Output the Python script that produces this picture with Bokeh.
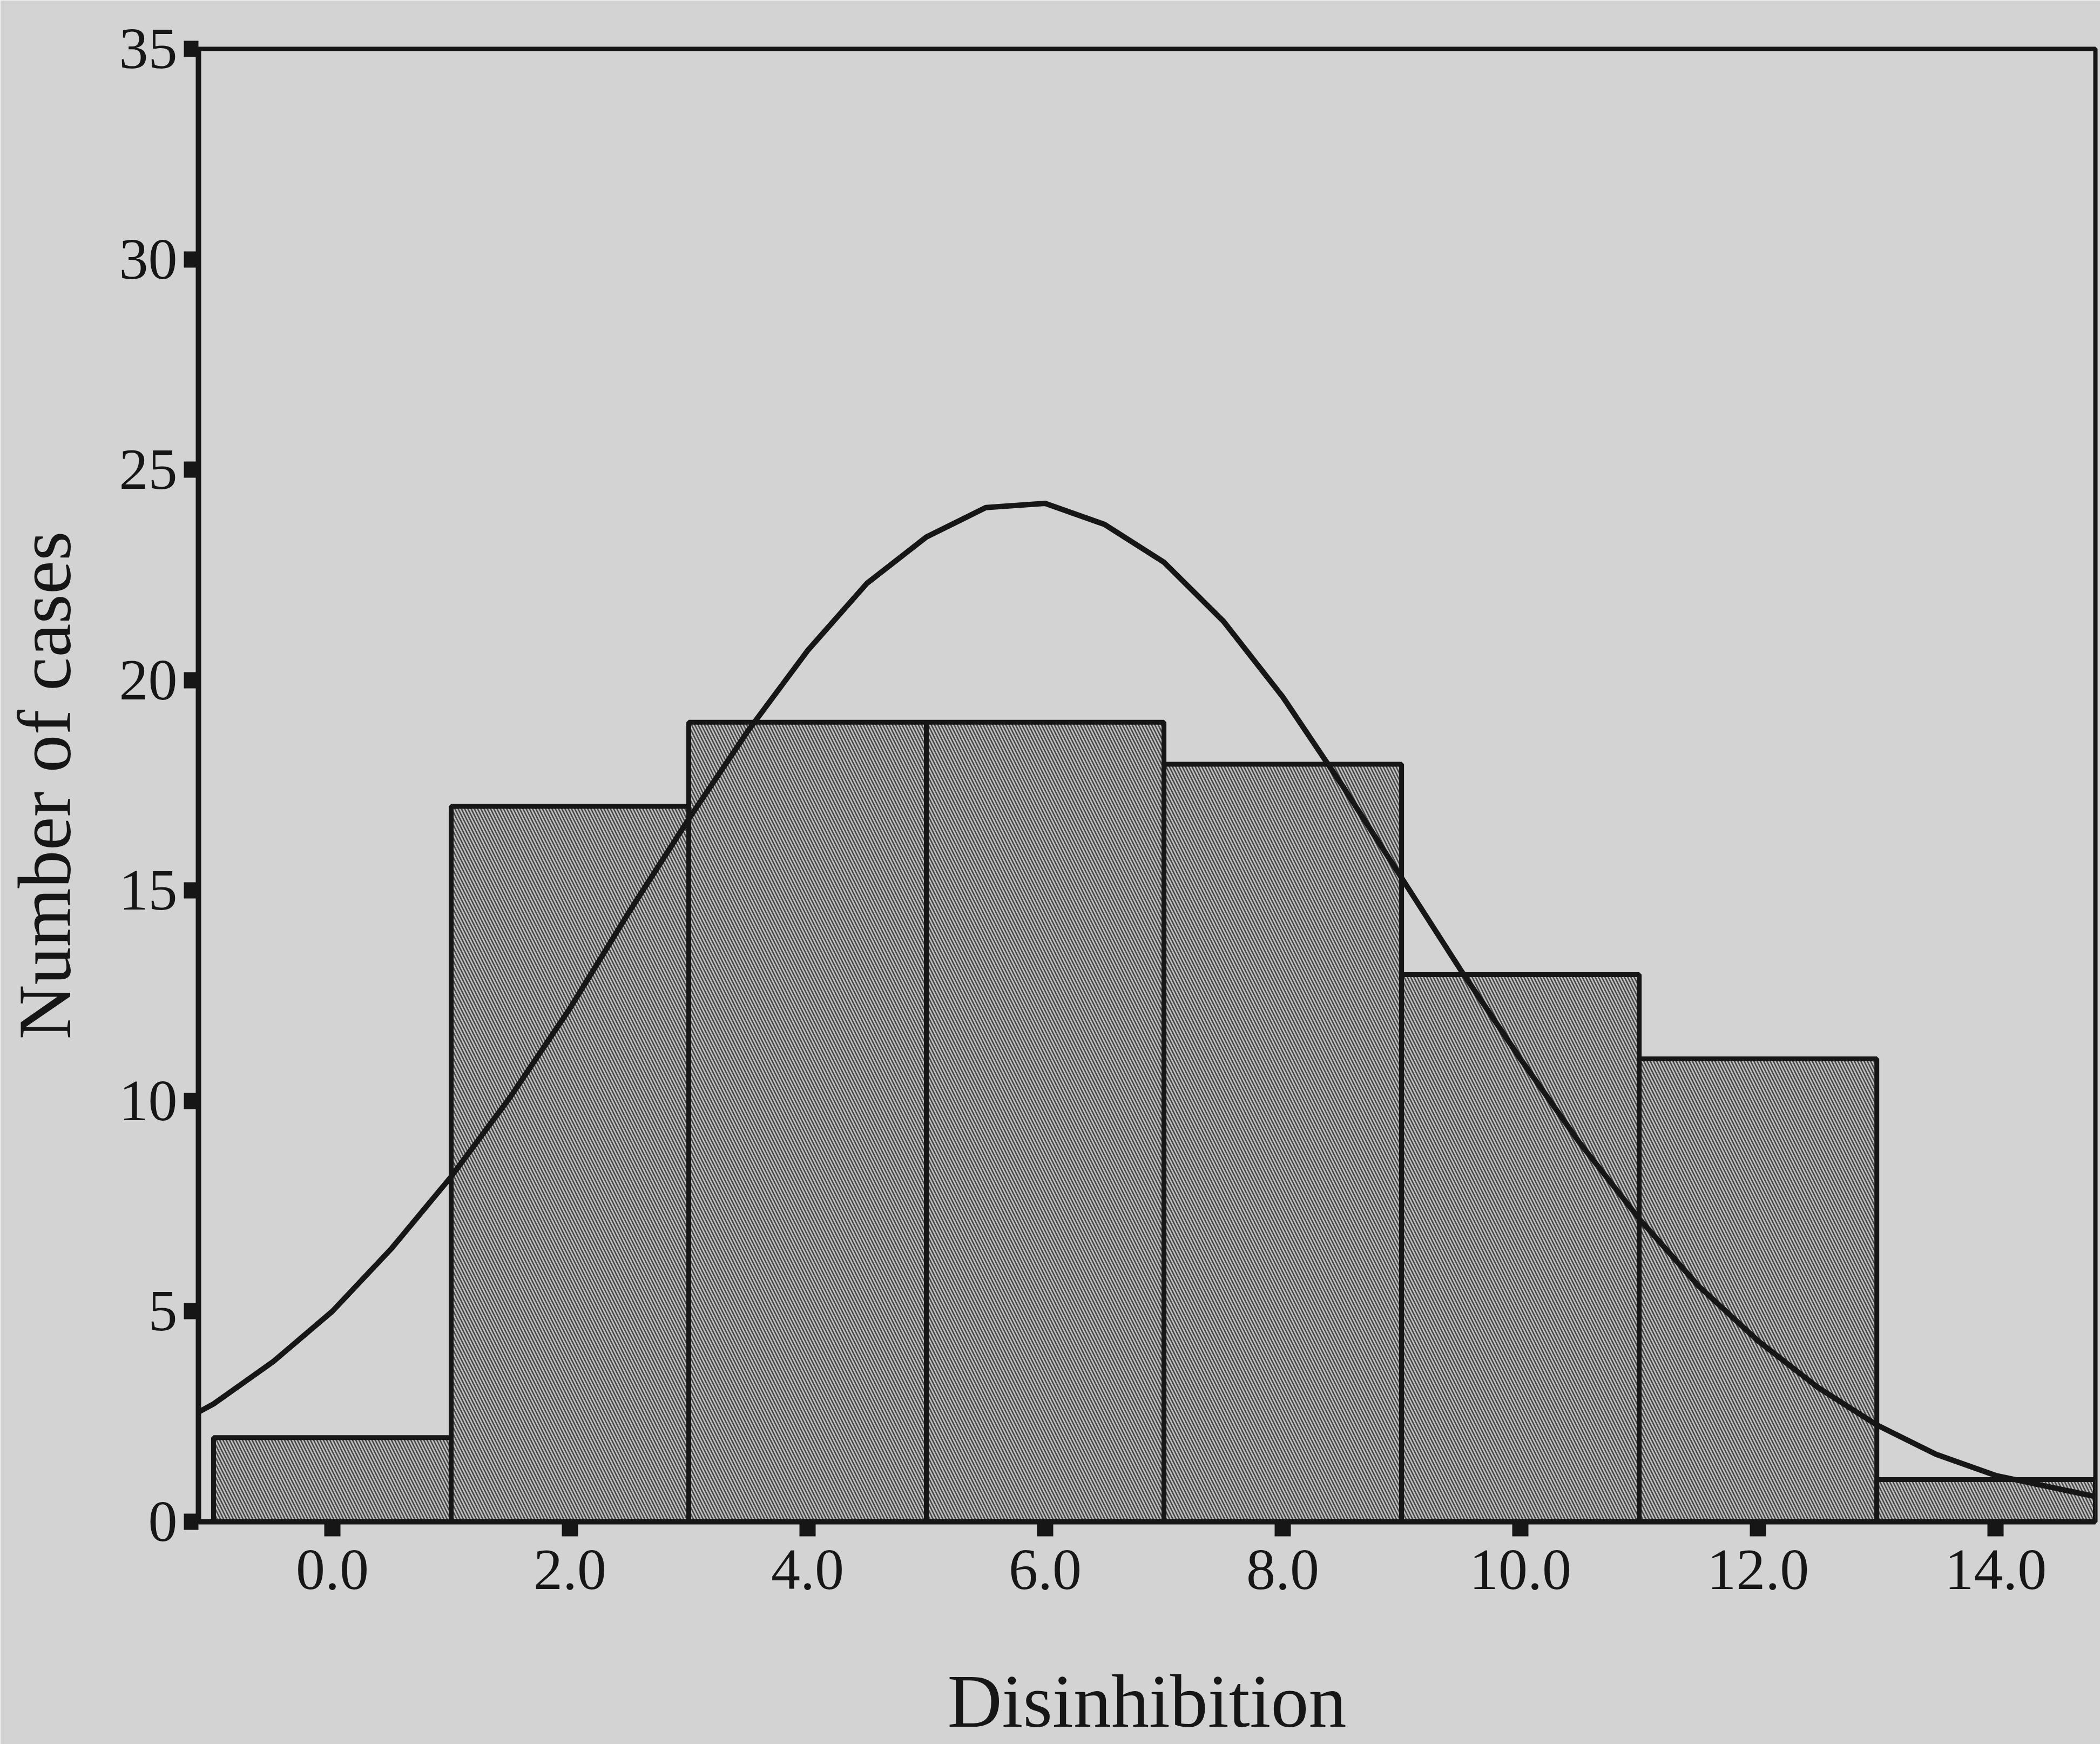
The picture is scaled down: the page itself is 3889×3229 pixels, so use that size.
from bokeh.plotting import figure
from bokeh.models import Range1d, FixedTicker, NumeralTickFormatter
from bokeh.embed import file_html
from bokeh.resources import INLINE

# Histogram of Disinhibition scores (bin width 2, centred on even values)
bin_centers = [0, 2, 4, 6, 8, 10, 12, 14]
bin_counts = [2, 17, 19, 19, 18, 13, 11, 1]
bin_width = 2

# Overlaid normal curve, sampled along the x axis
curve_x = [-1.13, -1.0, -0.5, 0.0, 0.5, 1.0, 1.5, 2.0, 2.5, 3.0, 3.5, 4.0,
           4.5, 5.0, 5.5, 6.0, 6.5, 7.0, 7.5, 8.0, 8.5, 9.0, 9.5, 10.0,
           10.5, 11.0, 11.5, 12.0, 12.5, 13.0, 13.5, 14.0, 14.5, 14.84]
curve_y = [2.6, 2.8, 3.8, 5.0, 6.5, 8.2, 10.1, 12.2, 14.5, 16.7, 18.8, 20.7,
           22.3, 23.4, 24.1, 24.2, 23.7, 22.8, 21.4, 19.6, 17.5, 15.3, 13.1, 11.0,
           9.0, 7.2, 5.6, 4.3, 3.2, 2.3, 1.6, 1.1, 0.8, 0.6]

x_ticks = [0, 2, 4, 6, 8, 10, 12, 14]
y_ticks = [0, 5, 10, 15, 20, 25, 30, 35]

BG = "#d3d3d3"
INK = "#161616"
FONT = "Liberation Serif"

p = figure(
    width=3889, height=3229,
    x_range=Range1d(-1.127, 14.84), y_range=Range1d(0, 35),
    output_backend="svg", toolbar_location=None,
    min_border_left=367, min_border_right=9,
    min_border_top=90, min_border_bottom=411,
)
p.background_fill_color = BG
p.border_fill_color = BG
p.outline_line_color = INK
p.outline_line_width = 8
p.grid.visible = False

# Hatched histogram bars
p.vbar(x=bin_centers, top=bin_counts, width=bin_width, bottom=0,
       fill_color="#c0c0c0", hatch_pattern="\\", hatch_color="#474747",
       hatch_scale=12, hatch_weight=2.6,
       line_color=INK, line_width=9)

# Normal curve
p.line(curve_x, curve_y, line_color=INK, line_width=10)

for ax in (p.xaxis[0], p.yaxis[0]):
    ax.axis_line_color = INK
    ax.axis_line_width = 10
    ax.major_tick_line_color = INK
    ax.major_tick_line_width = 30
    ax.major_tick_in = 0
    ax.major_tick_out = 27
    ax.minor_tick_line_color = None
    ax.major_label_text_font = FONT
    ax.major_label_text_font_size = "108px"
    ax.major_label_text_color = INK
    ax.axis_label_text_font = FONT
    ax.axis_label_text_font_size = "140px"
    ax.axis_label_text_font_style = "normal"
    ax.axis_label_text_color = INK

p.xaxis.ticker = FixedTicker(ticks=x_ticks)
p.xaxis.formatter = NumeralTickFormatter(format="0.0")
p.xaxis.major_label_standoff = 26
p.xaxis.axis_label = "Disinhibition"
p.xaxis.axis_label_standoff = 127

p.yaxis.ticker = FixedTicker(ticks=y_ticks)
p.yaxis.major_label_standoff = 12
p.yaxis.axis_label = "Number of cases"
p.yaxis.axis_label_standoff = 58

open("out.html", "w").write(file_html(p, INLINE))
